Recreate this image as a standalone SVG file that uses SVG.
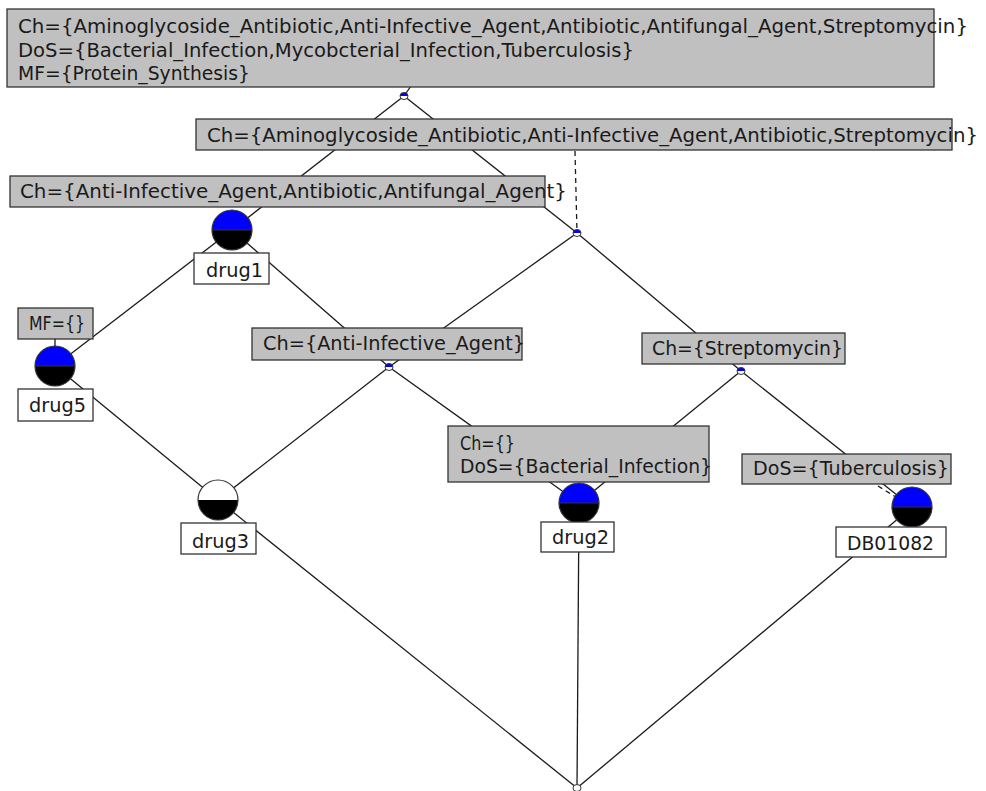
<svg xmlns="http://www.w3.org/2000/svg" xmlns:xlink="http://www.w3.org/1999/xlink" width="986" height="791" viewBox="0 0 986 791">
<style>
.edge{stroke:#1a1a1a;stroke-width:1.3;fill:none}
.dash{stroke:#1a1a1a;stroke-width:1.3;fill:none;stroke-dasharray:5,4}
.lbl{fill:#c0c0c0;stroke:#333;stroke-width:1.3}
.obj{fill:#fff;stroke:#333;stroke-width:1.3}
text{font-family:"DejaVu Sans","Liberation Sans",sans-serif;font-size:19px;fill:#1a1a1a}
</style>
<defs>
<g id="fullNode"><path d="M-20,0 A20,20 0 0 1 20,0 Z" fill="#0000ff"/><path d="M-20,0 A20,20 0 0 0 20,0 Z" fill="#000"/><circle r="20" fill="none" stroke="#333" stroke-width="1.2"/><line x1="-20" y1="0" x2="20" y2="0" stroke="#333" stroke-width="1"/></g>
<g id="halfNode"><path d="M-20,0 A20,20 0 0 1 20,0 Z" fill="#fff"/><path d="M-20,0 A20,20 0 0 0 20,0 Z" fill="#000"/><circle r="20" fill="none" stroke="#333" stroke-width="1.2"/></g>
<g id="smallNode"><path d="M-4,0 A4,3.5 0 0 1 4,0 Z" fill="#0000ff"/><path d="M-4,0 A4,3.5 0 0 0 4,0 Z" fill="#fff"/><ellipse rx="4" ry="3.5" fill="none" stroke="#333" stroke-width="1"/></g>
<g id="bottomNode"><ellipse rx="4" ry="3.5" fill="#fff" stroke="#333" stroke-width="1"/></g>
</defs>
<rect width="986" height="791" fill="#fff"/>
<g id="connectors">
<line class="edge" x1="404" y1="96" x2="232" y2="230"/>
<line class="edge" x1="404" y1="96" x2="577" y2="233"/>
<line class="edge" x1="232" y1="230" x2="55" y2="366"/>
<line class="edge" x1="232" y1="230" x2="389" y2="367"/>
<line class="edge" x1="577" y1="233" x2="389" y2="367"/>
<line class="edge" x1="577" y1="233" x2="741" y2="371"/>
<line class="edge" x1="55" y1="366" x2="218" y2="500"/>
<line class="edge" x1="389" y1="367" x2="218" y2="500"/>
<line class="edge" x1="389" y1="367" x2="579" y2="503"/>
<line class="edge" x1="741" y1="371" x2="579" y2="503"/>
<line class="edge" x1="741" y1="371" x2="912" y2="507"/>
<line class="edge" x1="218" y1="500" x2="577" y2="788"/>
<line class="edge" x1="579" y1="503" x2="577" y2="788"/>
<line class="edge" x1="912" y1="507" x2="577" y2="788"/>
<line class="edge" x1="404" y1="96" x2="411" y2="86"/>
<line class="dash" x1="575" y1="151" x2="577" y2="233"/>
<line class="dash" x1="878" y1="486" x2="912" y2="507"/>
</g>
<g id="node-top">
<rect class="lbl" x="7" y="9" width="927" height="78"/>
<text x="18" y="33" textLength="950" lengthAdjust="spacingAndGlyphs">Ch={Aminoglycoside_Antibiotic,Anti-Infective_Agent,Antibiotic,Antifungal_Agent,Streptomycin}</text>
<text x="18" y="57" textLength="616" lengthAdjust="spacingAndGlyphs">DoS={Bacterial_Infection,Mycobcterial_Infection,Tuberculosis}</text>
<text x="18" y="80" textLength="232" lengthAdjust="spacingAndGlyphs">MF={Protein_Synthesis}</text>
<use xlink:href="#smallNode" x="404" y="96"/>
</g>
<g id="node-n2">
<rect class="lbl" x="196" y="119" width="756" height="31"/>
<text x="207" y="142" textLength="771" lengthAdjust="spacingAndGlyphs">Ch={Aminoglycoside_Antibiotic,Anti-Infective_Agent,Antibiotic,Streptomycin}</text>
<use xlink:href="#smallNode" x="577" y="233"/>
</g>
<g id="node-drug1">
<rect class="lbl" x="10" y="176" width="535" height="31"/>
<text x="20" y="198" textLength="547" lengthAdjust="spacingAndGlyphs">Ch={Anti-Infective_Agent,Antibiotic,Antifungal_Agent}</text>
<use xlink:href="#fullNode" x="232" y="230"/>
<rect class="obj" x="194" y="253" width="75" height="31"/>
<text x="206" y="277" textLength="57" lengthAdjust="spacingAndGlyphs">drug1</text>
</g>
<g id="node-drug5">
<rect class="lbl" x="18" y="308" width="75" height="31"/>
<text x="29" y="330" textLength="56" lengthAdjust="spacingAndGlyphs">MF={}</text>
<line class="edge" x1="55" y1="339" x2="55" y2="346"/>
<use xlink:href="#fullNode" x="55" y="366"/>
<rect class="obj" x="18" y="389" width="75" height="32"/>
<text x="29" y="412" textLength="57" lengthAdjust="spacingAndGlyphs">drug5</text>
</g>
<g id="node-anti">
<rect class="lbl" x="252" y="328" width="270" height="32"/>
<text x="263" y="350" textLength="262" lengthAdjust="spacingAndGlyphs">Ch={Anti-Infective_Agent}</text>
<use xlink:href="#smallNode" x="389" y="367"/>
</g>
<g id="node-strep">
<rect class="lbl" x="642" y="333" width="203" height="31"/>
<text x="652" y="355" textLength="191" lengthAdjust="spacingAndGlyphs">Ch={Streptomycin}</text>
<use xlink:href="#smallNode" x="741" y="371"/>
</g>
<g id="node-drug3">
<use xlink:href="#halfNode" x="218" y="500"/>
<rect class="obj" x="181" y="523" width="75" height="31"/>
<text x="192" y="548" textLength="57" lengthAdjust="spacingAndGlyphs">drug3</text>
</g>
<g id="node-drug2">
<rect class="lbl" x="448" y="426" width="261" height="56"/>
<text x="460" y="450" textLength="55" lengthAdjust="spacingAndGlyphs">Ch={}</text>
<text x="460" y="473" textLength="252" lengthAdjust="spacingAndGlyphs">DoS={Bacterial_Infection}</text>
<use xlink:href="#fullNode" x="579" y="503"/>
<rect class="obj" x="541" y="522" width="73" height="30"/>
<text x="552" y="544" textLength="57" lengthAdjust="spacingAndGlyphs">drug2</text>
</g>
<g id="node-db01082">
<rect class="lbl" x="742" y="454" width="209" height="30"/>
<text x="753" y="475" textLength="196" lengthAdjust="spacingAndGlyphs">DoS={Tuberculosis}</text>
<use xlink:href="#fullNode" x="912" y="507"/>
<rect class="obj" x="836" y="527" width="110" height="30"/>
<text x="847" y="550" textLength="87" lengthAdjust="spacingAndGlyphs">DB01082</text>
</g>
<g id="node-bottom">
<use xlink:href="#bottomNode" x="577" y="788"/>
</g>
</svg>
